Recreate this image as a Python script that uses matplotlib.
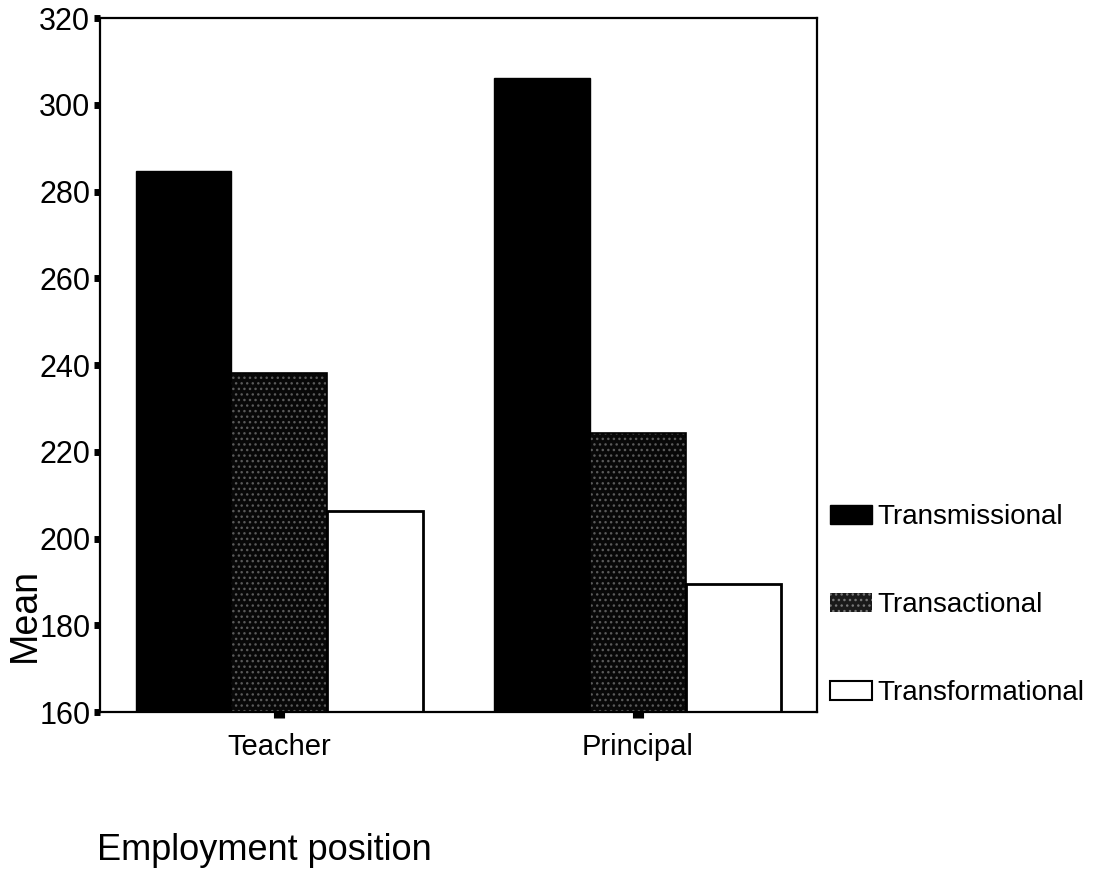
import matplotlib
matplotlib.use("Agg")
import matplotlib.pyplot as plt
import numpy as np
from matplotlib.patches import Patch

plt.rcParams['font.family'] = ['Liberation Sans', 'DejaVu Sans']

categories = ["Teacher", "Principal"]
series_names = ["Transmissional", "Transactional", "Transformational"]
transmissional = [284.8, 306.2]
transactional = [238.2, 224.4]
transformational = [206.4, 189.4]
yticks = [160, 180, 200, 220, 240, 260, 280, 300, 320]

fig = plt.figure(figsize=(11.08, 8.90), dpi=100)
ax = fig.add_axes([100/1108, 1-712/890, 717/1108, 694/890])

x = np.arange(len(categories))
w = 0.8/3
base = 160
ax.bar(x - w, np.array(transmissional) - base, w, bottom=base, color='black',
       edgecolor='black', linewidth=1)
ax.bar(x, np.array(transactional) - base, w, bottom=base, color='#080808',
       edgecolor='#5a5a5a', hatch='...', linewidth=0)
ax.bar(x, np.array(transactional) - base, w, bottom=base, fill=False,
       edgecolor='black', linewidth=1.2)
ax.bar(x + w, np.array(transformational) - base, w, bottom=base, color='white',
       edgecolor='black', linewidth=2)

ax.set_xlim(-0.5, 1.5)
ax.set_ylim(160, 320)
ax.set_yticks(yticks)
ax.set_yticklabels([str(t) for t in yticks], fontsize=22)
ax.set_xticks(x)
ax.set_xticklabels(categories, fontsize=21)
ax.tick_params(axis='y', direction='out', length=4, width=5, pad=3)
ax.tick_params(axis='x', direction='out', length=4, width=8, pad=11)
for s in ax.spines.values():
    s.set_linewidth(1.6)

fig.text(25/1108, 1-615/890, "Mean", fontsize=27, rotation=90,
         ha='center', va='center')

fig.text(97/1108, 1-850/890, "Employment position", fontsize=26, ha='left', va='center')

handles = [
    Patch(facecolor='black', edgecolor='black'),
    Patch(facecolor='#1a1a1a', edgecolor='#777777', hatch='...', linewidth=0),
    Patch(facecolor='white', edgecolor='black', linewidth=1.5),
]
fig.legend(handles, series_names, loc='upper left',
           bbox_to_anchor=(830/1108, 1-504/890), frameon=False, fontsize=20,
           borderpad=0, borderaxespad=0, labelspacing=2.24, handlelength=1.51,
           handleheight=0.68, handletextpad=0.18)

fig.savefig("out.png", dpi=100)
